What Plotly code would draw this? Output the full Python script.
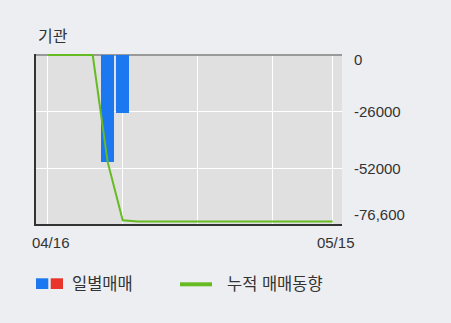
import plotly.graph_objects as go

# Trading days shown on the category axis
dates = ["04/16", "04/17", "04/18", "04/19", "04/22", "04/23", "04/24", "04/25",
         "04/26", "04/29", "04/30", "05/02", "05/03", "05/07", "05/08", "05/09",
         "05/10", "05/13", "05/14", "05/15"]

# Daily institutional net trading (shares)
daily = [0, 0, 0, 0, -49300, -26700, 0, 0, 0, 0,
         0, 0, 0, 0, 0, 0, 0, 0, 0, 0]

# Cumulative net trading (shares)
cumulative = [0, 0, 0, 0, -49300, -76000, -76600, -76600, -76600, -76600,
              -76600, -76600, -76600, -76600, -76600, -76600, -76600, -76600,
              -76600, -76600]

# Right-side value labels
y_tick_vals = [0, -26000, -52000, -76600]
y_tick_text = ["0", "-26000", "-52000", "-76,600"]

# Positions on the x axis that carry grid lines / labels
x_grid_idx = [0, 5, 10, 15, 19]

W, H = 451, 323
L, R, T, B = 36, 109, 54, 99
PW, PH = W - L - R, H - T - B


def px_x(p):
    return (p - L) / PW


def px_y(p):
    return (H - B - p) / PH


FONT = "Liberation Sans, Noto Sans CJK KR, sans-serif"
TXT = "#333333"
BLUE = "#1b78f0"
RED = "#e8342a"
GREEN = "#66bb22"

bar_colors = [BLUE if v <= 0 else RED for v in daily]

fig = go.Figure()
fig.add_trace(go.Bar(x=dates, y=daily, marker_color=bar_colors,
                     marker_line_width=0, width=0.87, showlegend=False))
fig.add_trace(go.Scatter(x=dates, y=cumulative, mode="lines",
                         line=dict(color=GREEN, width=2), showlegend=False))

fig.update_layout(
    width=W, height=H,
    margin=dict(l=L, r=R, t=T, b=B, pad=0),
    paper_bgcolor="#edeef2",
    plot_bgcolor="#e0e0e0",
    font=dict(family=FONT, size=15, color=TXT),
    showlegend=False,
    bargap=0,
)

fig.update_xaxes(
    type="category",
    range=[-0.78, 19.62],
    tickvals=[dates[i] for i in x_grid_idx],
    ticktext=[dates[0], "", "", "", dates[-1]],
    showgrid=True, gridcolor="#ffffff", gridwidth=1,
    showline=True, linecolor="#333333", linewidth=2,
    ticks="", ticklabelshift=3, ticklabelstandoff=4,
    tickfont=dict(size=15, color=TXT, family=FONT),
    zeroline=False, fixedrange=True,
)

fig.update_yaxes(
    range=[-77750, 460],
    tickvals=y_tick_vals[1:3],
    showticklabels=False,
    showgrid=True, gridcolor="#ffffff", gridwidth=1,
    showline=True, linecolor="#333333", linewidth=2,
    zeroline=True, zerolinecolor="#999999", zerolinewidth=2,
    ticks="", fixedrange=True,
)

# Value labels on the right-hand side
shifts = [-4, 0, 0, 7.5]
for v, t, s in zip(y_tick_vals, y_tick_text, shifts):
    fig.add_annotation(x=1, xref="paper", y=v, yref="y", text=t,
                       xanchor="left", yanchor="middle", xshift=9.5, yshift=s,
                       showarrow=False, font=dict(size=15, color=TXT, family=FONT))

# Title
fig.add_annotation(x=px_x(35.5), y=px_y(36.5), xref="paper", yref="paper",
                   text="기관", xanchor="left", yanchor="middle", showarrow=False,
                   font=dict(size=16, color=TXT, family=FONT))

# Legend: daily trading (blue/red squares) and cumulative line
fig.add_shape(type="rect", xref="paper", yref="paper",
              x0=px_x(36), x1=px_x(48.3), y0=px_y(289), y1=px_y(278.3),
              fillcolor=BLUE, line_width=0)
fig.add_shape(type="rect", xref="paper", yref="paper",
              x0=px_x(50.7), x1=px_x(63), y0=px_y(289), y1=px_y(278.3),
              fillcolor=RED, line_width=0)
fig.add_annotation(x=px_x(70), y=px_y(283.7), xref="paper", yref="paper",
                   text="일별매매", xanchor="left", yanchor="middle", showarrow=False,
                   font=dict(size=16.5, color=TXT, family=FONT))
fig.add_shape(type="line", xref="paper", yref="paper",
              x0=px_x(180), x1=px_x(212), y0=px_y(284.3), y1=px_y(284.3),
              line=dict(color=GREEN, width=4))
fig.add_annotation(x=px_x(225), y=px_y(283.7), xref="paper", yref="paper",
                   text="누적 매매동향", xanchor="left", yanchor="middle", showarrow=False,
                   font=dict(size=16.5, color=TXT, family=FONT))

fig.write_html("out.html", config={"displayModeBar": False})
